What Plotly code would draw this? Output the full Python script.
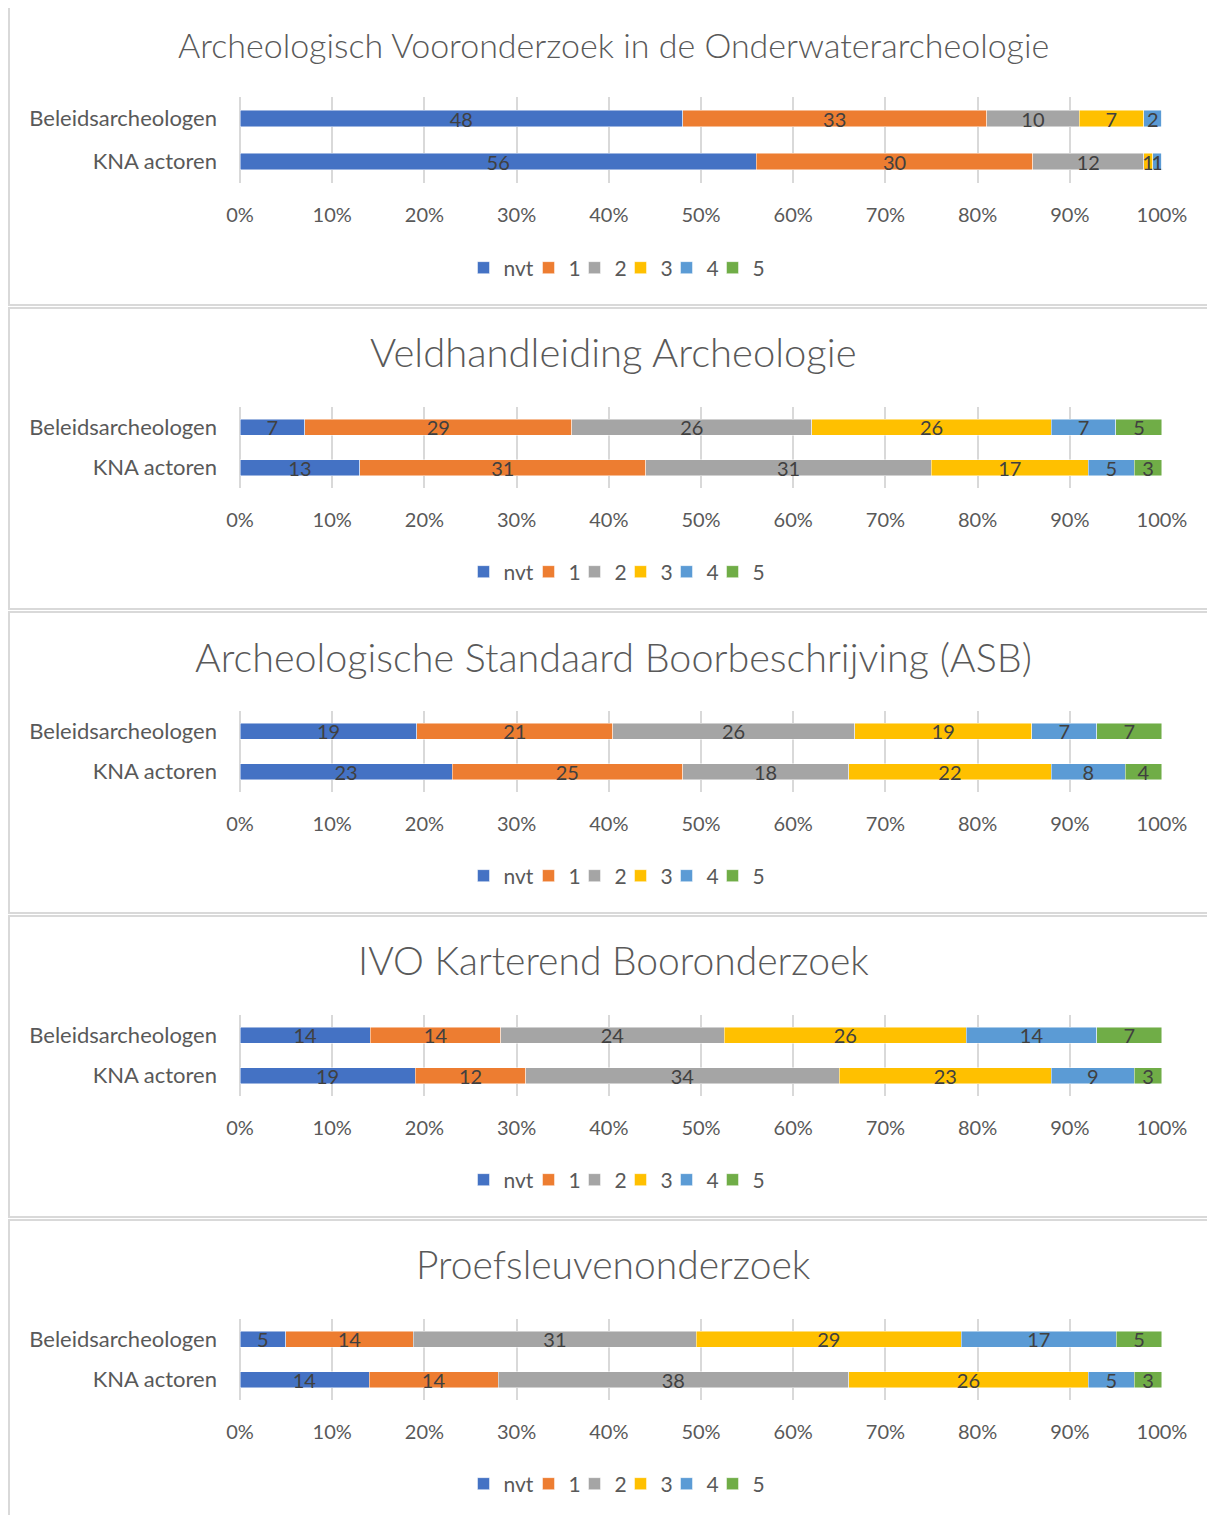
import plotly.graph_objects as go

# ---------------- data ----------------
titles = [
    "Archeologisch Vooronderzoek in de Onderwaterarcheologie",
    "Veldhandleiding Archeologie",
    "Archeologische Standaard Boorbeschrijving (ASB)",
    "IVO Karterend Booronderzoek",
    "Proefsleuvenonderzoek",
]
groups = ["Beleidsarcheologen", "KNA actoren"]
series_names = ["nvt", "1", "2", "3", "4", "5"]

beleid_vals = [
    [48, 33, 10, 7, 2, 0],
    [7, 29, 26, 26, 7, 5],
    [19, 21, 26, 19, 7, 7],
    [14, 14, 24, 26, 14, 7],
    [5, 14, 31, 29, 17, 5],
]
kna_vals = [
    [56, 30, 12, 1, 1, 0],
    [13, 31, 31, 17, 5, 3],
    [23, 25, 18, 22, 8, 4],
    [19, 12, 34, 23, 9, 3],
    [14, 14, 38, 26, 5, 3],
]
tick_vals = [0, 10, 20, 30, 40, 50, 60, 70, 80, 90, 100]
tick_text = ["0%", "10%", "20%", "30%", "40%", "50%", "60%", "70%", "80%", "90%", "100%"]

# ---------------- style ----------------
colors = ["#4472C4", "#ED7D31", "#A5A5A5", "#FFC000", "#5B9BD5", "#70AD47"]
legend_widths = [20, 1, 1, 1, 1, None]
OFF = 8                      # page body margin
W, H = 1215 - OFF, 1515 - OFF
FONT = "Lato"
TXT = "#595959"
GRID = "#d9d9d9"

panel_tops = [5, 309, 613, 917, 1221]
plot_areas = [(97, 183), (407, 488), (711, 792), (1015, 1096), (1319, 1400)]
title_y = [45, 352, 656, 960, 1264]
title_size = [34, 40, 39.5, 39, 39]
legend_y = [268, 572, 876, 1180, 1484]
x_left, x_right = 240, 1162


def px(p):
    return (p - OFF) / W


def py(p):
    return 1 - (p - OFF) / H


fig = go.Figure()
shapes = []
annotations = []
layout_extra = {}

for i in range(5):
    n = i + 1
    sfx = "" if n == 1 else str(n)
    leg = "legend" if n == 1 else f"legend{n}"
    for s, name in enumerate(series_names):
        vals = [beleid_vals[i][s], kna_vals[i][s]]
        kw = {}
        if legend_widths[s] is not None:
            kw["legendwidth"] = legend_widths[s]
        fig.add_trace(go.Bar(
            x=vals, y=groups, orientation="h", name=name,
            marker=dict(color=colors[s], line=dict(color="rgba(255,255,255,0.6)", width=0.8)),
            text=[str(v) for v in vals], texttemplate="%{text}",
            textposition="inside", insidetextanchor="middle", textangle=0,
            textfont=dict(family=FONT, size=20, color="#404040"),
            cliponaxis=False,
            xaxis="x" + sfx, yaxis="y" + sfx, legend=leg,
            hoverinfo="skip", **kw,
        ))
    top, bot = plot_areas[i]
    layout_extra["xaxis" + sfx] = dict(
        domain=[px(x_left), px(x_right)], range=[0, 100.001], anchor="y" + sfx,
        tickvals=tick_vals, ticktext=tick_text, showgrid=True, gridcolor=GRID, gridwidth=1.5,
        zeroline=True, zerolinecolor=GRID, zerolinewidth=1.5, showline=False, ticks="",
        tickfont=dict(family=FONT, size=20, color=TXT), ticklabelstandoff=18,
        fixedrange=True, automargin=False,
    )
    layout_extra["yaxis" + sfx] = dict(
        domain=[py(bot), py(top)], anchor="x" + sfx, autorange="reversed",
        showgrid=False, zeroline=False, showline=False, ticks="",
        tickfont=dict(family=FONT, size=22, color=TXT), ticklabelstandoff=22,
        fixedrange=True, automargin=False,
    )
    layout_extra[leg] = dict(
        orientation="h", x=px(617), xanchor="center", y=py(legend_y[i]), yanchor="middle",
        font=dict(family=FONT, size=21, color=TXT), bgcolor="rgba(0,0,0,0)",
        itemwidth=30, traceorder="normal",
    )
    annotations.append(dict(
        text=titles[i], x=px(613), y=py(title_y[i]), xref="paper", yref="paper",
        xanchor="center", yanchor="middle", showarrow=False,
        font=dict(family=FONT, size=title_size[i], color=TXT, weight=300),
    ))
    t = panel_tops[i]
    shapes.append(dict(
        type="rect", xref="paper", yref="paper",
        x0=px(9), x1=1.01, y0=py(t + 300), y1=py(t - 1),
        line=dict(color=GRID, width=2), fillcolor="rgba(0,0,0,0)", layer="below",
    ))

fig.update_layout(
    width=W, height=H, margin=dict(l=0, r=0, t=0, b=0, autoexpand=False),
    paper_bgcolor="white", plot_bgcolor="white",
    barmode="stack", barnorm="percent", bargap=0.61,
    uniformtext=dict(minsize=20, mode="show"),
    shapes=shapes, annotations=annotations,
    **layout_extra,
)

fig.write_html("out.html")
